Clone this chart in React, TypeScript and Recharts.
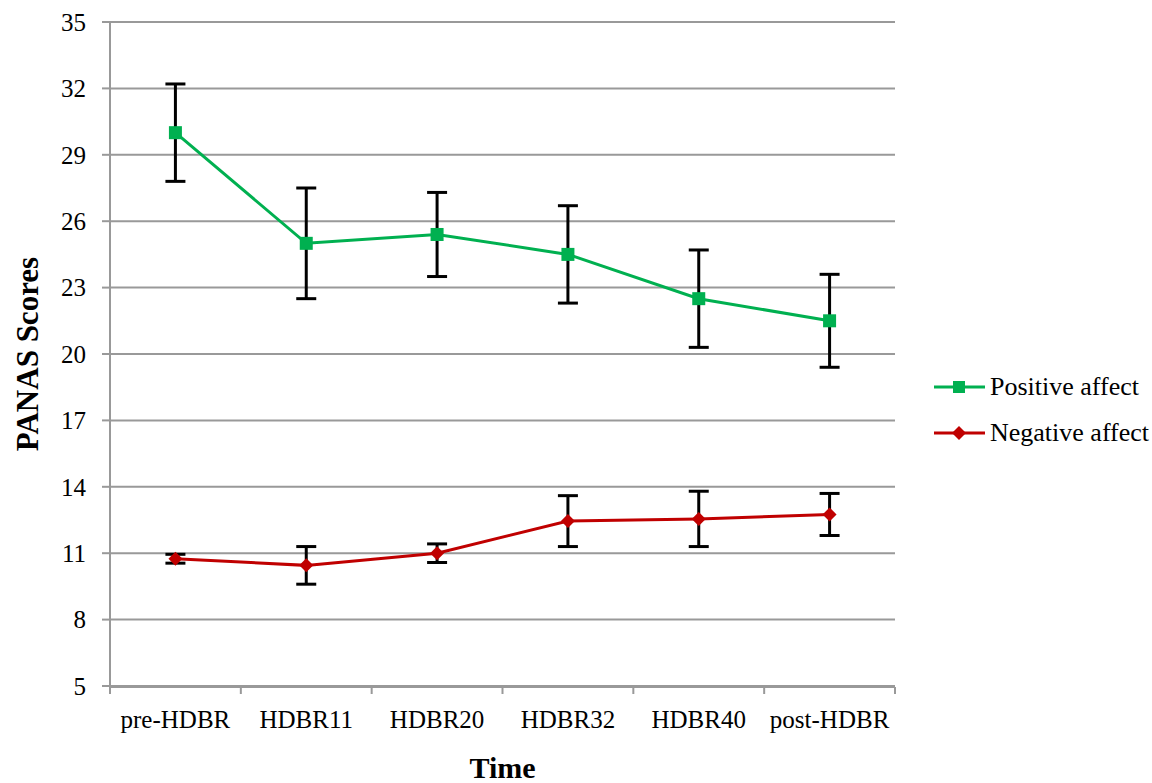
import React from "react"
import { LineChart, Line, XAxis, YAxis, CartesianGrid, ErrorBar, Legend } from "recharts"

const categories = ["pre-HDBR", "HDBR11", "HDBR20", "HDBR32", "HDBR40", "post-HDBR"]
const positive = [30.0, 25.0, 25.4, 24.5, 22.5, 21.5]
const positiveErr = [2.2, 2.5, 1.9, 2.2, 2.2, 2.1]
const negative = [10.75, 10.45, 11.0, 12.45, 12.55, 12.75]
const negativeErr = [0.2, 0.85, 0.42, 1.15, 1.25, 0.95]
const yTicks = [5, 8, 11, 14, 17, 20, 23, 26, 29, 32, 35]

const GREEN = "#00b050"
const RED = "#c00000"
const GRAY = "#999999"
const FONT = "'Liberation Serif', 'Times New Roman', serif"

const data = categories.map((name, i) => ({
  idx: i,
  name,
  pos: positive[i],
  posErr: positiveErr[i],
  neg: negative[i],
  negErr: negativeErr[i],
}))

const boundaryTicks = [-0.5, 0.5, 1.5, 2.5, 3.5, 4.5, 5.5]
const centerTicks = categories.map((_, i) => i)

const SquareDot = (props: any) => {
  const { cx, cy, index } = props
  if (cx == null || cy == null) return null
  return <rect key={`sq-${index}`} x={cx - 6.5} y={cy - 6.5} width={13} height={13} fill={GREEN} />
}

const DiamondDot = (props: any) => {
  const { cx, cy, index } = props
  if (cx == null || cy == null) return null
  return (
    <path
      key={`dm-${index}`}
      d={`M${cx},${cy - 7} L${cx + 7},${cy} L${cx},${cy + 7} L${cx - 7},${cy} Z`}
      fill={RED}
    />
  )
}

const LegendBox = () => (
  <div style={{ fontFamily: FONT, fontSize: 26, color: "#000", lineHeight: "46px" }}>
    {[
      { label: "Positive affect", color: GREEN, shape: "square" },
      { label: "Negative affect", color: RED, shape: "diamond" },
    ].map((item) => (
      <div key={item.label} style={{ display: "flex", alignItems: "center", height: 46 }}>
        <svg width={54} height={20} style={{ marginRight: 2 }}>
          <line x1={0} y1={10} x2={51} y2={10} stroke={item.color} strokeWidth={3} />
          {item.shape === "square" ? (
            <rect x={19} y={4} width={12} height={12} fill={item.color} />
          ) : (
            <path d="M25,3 L32,10 L25,17 L18,10 Z" fill={item.color} />
          )}
        </svg>
        <span>{item.label}</span>
      </div>
    ))}
  </div>
)

export default function App() {
  return (
    <div style={{ position: "absolute", left: 0, top: 0, width: 1152, height: 783, background: "#fff" }}>
      <LineChart
        width={1152}
        height={783}
        data={data}
        margin={{ top: 22, right: 39, bottom: 95, left: 0 }}
      >
        <CartesianGrid vertical={false} stroke={GRAY} strokeWidth={2} />
        <XAxis
          xAxisId="marks"
          dataKey="idx"
          type="number"
          domain={[-0.5, 5.5]}
          ticks={boundaryTicks}
          interval={0}
          tickFormatter={() => ""}
          height={1}
          axisLine={{ stroke: GRAY, strokeWidth: 2 }}
          tickLine={{ stroke: GRAY, strokeWidth: 2 }}
          tickSize={7}
        />
        <XAxis
          xAxisId="labels"
          dataKey="idx"
          type="number"
          domain={[-0.5, 5.5]}
          ticks={centerTicks}
          interval={0}
          height={1}
          axisLine={false}
          tickLine={false}
          tickSize={0}
          tickMargin={24}
          tickFormatter={(v: number) => categories[v] ?? ""}
          tick={{ fill: "#000", fontSize: 25, fontFamily: FONT }}
          label={{
            value: "Time",
            position: "center",
            dy: 81,
            style: { fontFamily: FONT, fontSize: 30, fontWeight: "bold", fill: "#000" },
          }}
        />
        <YAxis
          domain={[5, 35]}
          ticks={yTicks}
          interval={0}
          width={110}
          axisLine={{ stroke: GRAY, strokeWidth: 2 }}
          tickLine={{ stroke: GRAY, strokeWidth: 2 }}
          tickSize={8}
          tickMargin={16}
          tick={{ fill: "#000", fontSize: 25, fontFamily: FONT }}
          label={{
            value: "PANAS  Scores",
            angle: -90,
            position: "center",
            dx: -28,
            style: { fontFamily: FONT, fontSize: 31, fontWeight: "bold", fill: "#000", whiteSpace: "pre" },
          }}
        />
        <Legend
          layout="vertical"
          align="right"
          verticalAlign="top"
          wrapperStyle={{ left: 934, top: 364, width: 218 }}
          content={() => <LegendBox />}
        />
        <Line
          xAxisId="marks"
          dataKey="pos"
          name="Positive affect"
          stroke={GREEN}
          strokeWidth={3}
          dot={SquareDot}
          activeDot={false}
          isAnimationActive={false}
        >
          <ErrorBar dataKey="posErr" direction="y" width={10} stroke="#000" strokeWidth={3} isAnimationActive={false} />
        </Line>
        <Line
          xAxisId="marks"
          dataKey="neg"
          name="Negative affect"
          stroke={RED}
          strokeWidth={3}
          dot={DiamondDot}
          activeDot={false}
          isAnimationActive={false}
        >
          <ErrorBar dataKey="negErr" direction="y" width={10} stroke="#000" strokeWidth={3} isAnimationActive={false} />
        </Line>
      </LineChart>
    </div>
  )
}
